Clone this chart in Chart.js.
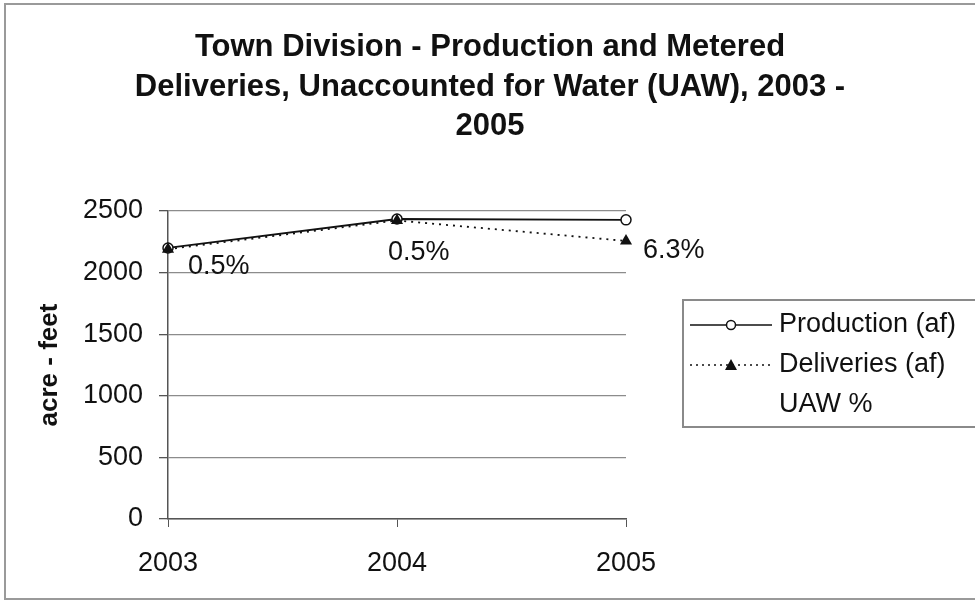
<!DOCTYPE html>
<html>
<head>
<meta charset="utf-8">
<script src="https://cdn.jsdelivr.net/npm/chart.js@4.4.1/dist/chart.umd.min.js"></script>
<style>
    html, body { margin: 0; padding: 0; background: #fff; }
    #wrap { width: 975px; height: 603px; position: relative; }
</style>
</head>
<body>
<div id="wrap"><canvas id="uawChart" width="975" height="603"></canvas></div>
<script>
// Town Division production vs metered deliveries, UAW labels

const YEARS = ['2003', '2004', '2005'];
const PRODUCTION = [2200, 2435, 2428];
const DELIVERIES = [2190, 2423, 2257];
const UAW_LABELS = ['0.5%', '0.5%', '6.3%'];
const Y_TICKS = [0, 500, 1000, 1500, 2000, 2500];
const TITLE_LINES = [
    'Town Division - Production and Metered',
    'Deliveries, Unaccounted for Water (UAW), 2003 -',
    '2005'
];

const FONT = 'Arial, "Liberation Sans", sans-serif';
// where each UAW label sits relative to its delivery point (px)
const LABEL_OFFSETS = [[20, 17], [-9, 32], [17, 10]];

// frame round the whole picture + the title block
const framePlugin = {
    id: 'frame',
    beforeDraw(chart) {
        const c = chart.ctx;
        c.save();
        c.fillStyle = '#fff';
        c.fillRect(0, 0, chart.width, chart.height);
        c.strokeStyle = '#9a9a9a';
        c.lineWidth = 2;
        c.strokeRect(5, 4, chart.width + 10, chart.height - 8);

        c.fillStyle = '#111';
        c.font = 'bold 31px ' + FONT;
        c.textAlign = 'center';
        c.textBaseline = 'alphabetic';
        TITLE_LINES.forEach((line, i) => {
            c.fillText(line, 490, 56 + i * 39.5);
        });
        c.restore();
    }
};

// UAW % text next to the delivery points
const uawLabelPlugin = {
    id: 'uawLabels',
    afterDatasetsDraw(chart) {
        const meta = chart.getDatasetMeta(1);
        const c = chart.ctx;
        c.save();
        c.font = '27px ' + FONT;
        c.fillStyle = '#111';
        c.textAlign = 'left';
        c.textBaseline = 'middle';
        meta.data.forEach((pt, i) => {
            const off = LABEL_OFFSETS[i];
            c.fillText(UAW_LABELS[i], pt.x + off[0], pt.y + off[1]);
        });
        c.restore();
    }
};

// Excel-like legend box on the right
const legendPlugin = {
    id: 'xlLegend',
    afterDraw(chart) {
        const c = chart.ctx;
        const x0 = 683, y0 = 300, x1 = 990, y1 = 427;
        c.save();
        c.strokeStyle = '#8a8a8a';
        c.lineWidth = 2;
        c.strokeRect(x0, y0, x1 - x0, y1 - y0);

        c.font = '27px ' + FONT;
        c.fillStyle = '#111';
        c.textBaseline = 'middle';
        c.textAlign = 'left';

        const rows = [325, 365, 405];
        // production sample
        c.strokeStyle = '#111';
        c.lineWidth = 1.5;
        c.setLineDash([]);
        c.beginPath();
        c.moveTo(690, rows[0]);
        c.lineTo(772, rows[0]);
        c.stroke();
        c.fillStyle = '#fff';
        c.beginPath();
        c.arc(731, rows[0], 4.5, 0, Math.PI * 2);
        c.fill();
        c.stroke();
        c.fillStyle = '#111';
        c.fillText('Production (af)', 779, rows[0]);

        // deliveries sample
        c.setLineDash([2, 4]);
        c.beginPath();
        c.moveTo(690, rows[1]);
        c.lineTo(772, rows[1]);
        c.stroke();
        c.setLineDash([]);
        c.beginPath();
        c.moveTo(731, rows[1] - 6);
        c.lineTo(737, rows[1] + 5);
        c.lineTo(725, rows[1] + 5);
        c.closePath();
        c.fill();
        c.fillText('Deliveries (af)', 779, rows[1]);

        c.fillText('UAW %', 779, rows[2]);
        c.restore();
    }
};

const ctx = document.getElementById('uawChart').getContext('2d');
new Chart(ctx, {
    type: 'line',
    data: {
        labels: YEARS,
        datasets: [
            {
                label: 'Production (af)',
                data: PRODUCTION,
                borderColor: '#111',
                backgroundColor: '#fff',
                borderWidth: 1.8,
                pointStyle: 'circle',
                pointRadius: 5,
                pointBorderWidth: 1.5,
                pointBackgroundColor: '#fff',
                pointBorderColor: '#111',
                tension: 0,
                fill: false,
                order: 1
            },
            {
                label: 'Deliveries (af)',
                data: DELIVERIES,
                borderColor: '#111',
                backgroundColor: '#111',
                borderWidth: 1.8,
                borderDash: [2, 5],
                pointStyle: 'triangle',
                pointRadius: 7,
                pointBorderWidth: 0,
                pointBackgroundColor: '#111',
                tension: 0,
                fill: false,
                order: 0
            }
        ]
    },
    options: {
        responsive: false,
        animation: false,
        devicePixelRatio: 1,
        layout: { padding: { left: 10, right: 349, top: 211, bottom: 0 } },
        plugins: {
            legend: { display: false },
            tooltip: { enabled: false },
            title: { display: false }
        },
        scales: {
            x: {
                type: 'category',
                offset: false,
                grid: {
                    display: true,
                    drawOnChartArea: false,
                    drawTicks: true,
                    tickLength: 8,
                    color: '#555'
                },
                border: { display: true, color: '#555', width: 1.5 },
                ticks: {
                    color: '#111',
                    font: { family: FONT, size: 27 },
                    padding: 20,
                    maxRotation: 0
                },
                afterFit(scale) { scale.height = 84; }
            },
            y: {
                min: 0,
                max: 2500,
                afterBuildTicks(scale) { scale.ticks = Y_TICKS.map(v => ({ value: v })); },
                grid: {
                    color: '#8c8c8c',
                    lineWidth: 1.3,
                    drawTicks: true,
                    tickLength: 9,
                    tickColor: '#555'
                },
                border: { display: true, color: '#555', width: 1.5 },
                ticks: {
                    color: '#111',
                    font: { family: FONT, size: 27 },
                    padding: 16,
                    callback: (v) => String(v)
                },
                title: {
                    display: true,
                    text: 'acre - feet',
                    color: '#111',
                    font: { family: FONT, size: 26, weight: 'bold' },
                    padding: { top: 24, bottom: 0 }
                },
                afterFit(scale) { scale.width = 158; }
            }
        }
    },
    plugins: [framePlugin, uawLabelPlugin, legendPlugin]
});
</script>
</body>
</html>
